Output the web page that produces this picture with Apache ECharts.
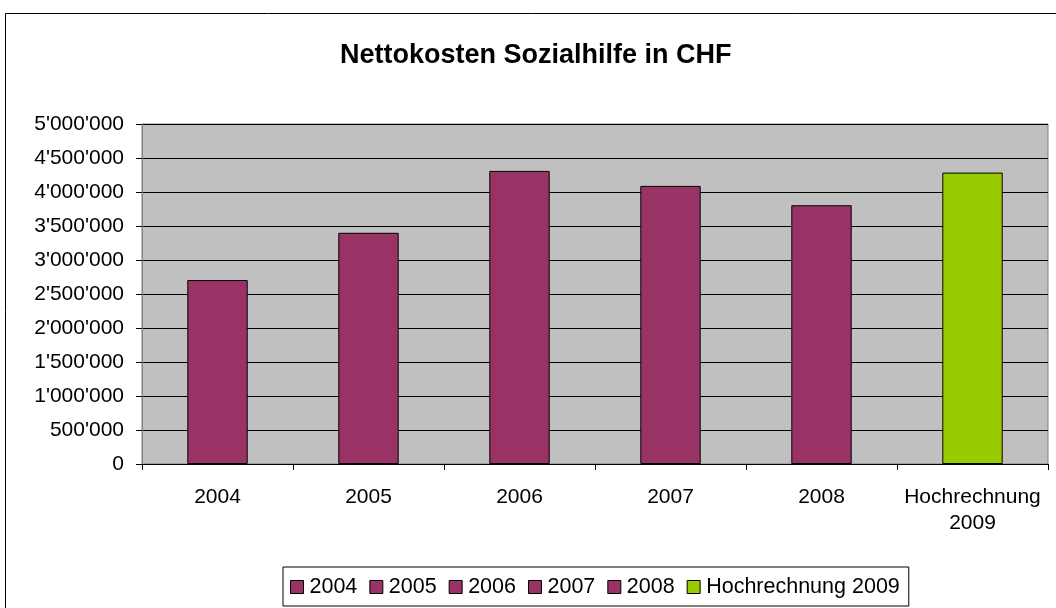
<!DOCTYPE html>
<html>
<head>
<meta charset="utf-8">
<script src="https://cdn.jsdelivr.net/npm/echarts@6/dist/echarts.min.js"></script>
<style>
  html, body { margin: 0; padding: 0; background: #fff; }
  #main { width: 1056px; height: 608px; }
</style>
</head>
<body>
<div id="main"></div>
<script>
// data
var categories = ['2004', '2005', '2006', '2007', '2008', 'Hochrechnung\n2009'];
var seriesNames = ['2004', '2005', '2006', '2007', '2008', 'Hochrechnung 2009'];
var values = [2705000, 3400000, 4310000, 4090000, 3805000, 4285000];
var colors = ['#993366', '#993366', '#993366', '#993366', '#993366', '#99CC00'];
var yTicks = { min: 0, max: 5000000, interval: 500000 };

var FONT = '"Liberation Sans", Arial, sans-serif';

function swissFormat(v) {
    return String(v).replace(/\B(?=(\d{3})+(?!\d))/g, "'");
}

var myChart = echarts.init(document.getElementById('main'));

// one series per year, value only in its own slot so the bars stay centred
var series = seriesNames.map(function (name, i) {
    return {
        name: name,
        type: 'bar',
        stack: 'all',
        barWidth: '40%',
        data: values.map(function (v, j) { return j === i ? v : null; }),
        itemStyle: { color: colors[i], borderColor: '#000', borderWidth: 1 }
    };
});

var option = {
    animation: false,
    backgroundColor: '#fff',
    color: colors,
    textStyle: { fontFamily: FONT },
    title: {
        text: 'Nettokosten Sozialhilfe in CHF',
        left: 335,
        top: 37,
        textStyle: { fontFamily: FONT, fontSize: 27, fontWeight: 'bold', color: '#000' }
    },
    graphic: [{
        type: 'rect',
        shape: { x: 5.5, y: 13.5, width: 1200, height: 800 },
        style: { fill: 'none', stroke: '#000', lineWidth: 1 },
        silent: true
    }],
    legend: {
        data: seriesNames,
        left: 283,
        top: 567,
        itemWidth: 13,
        itemHeight: 13,
        itemGap: 12,
        icon: 'rect',
        borderColor: '#000',
        borderWidth: 1,
        padding: [9, 9, 8, 7],
        itemStyle: { borderColor: '#000', borderWidth: 1 },
        textStyle: { fontFamily: FONT, fontSize: 21.5, color: '#000', padding: [0, 0, 0, 1] }
    },
    grid: {
        left: 142, right: 8, top: 124, bottom: 144,
        show: true,
        backgroundColor: '#C0C0C0',
        borderColor: '#808080',
        borderWidth: 1
    },
    xAxis: {
        type: 'category',
        data: categories,
        axisLine: { lineStyle: { color: '#000', width: 1 } },
        axisTick: { show: true, length: 6, alignWithLabel: false, lineStyle: { color: '#000' } },
        axisLabel: { fontFamily: FONT, fontSize: 21, color: '#000', margin: 20, lineHeight: 26, interval: 0 }
    },
    yAxis: {
        type: 'value',
        min: yTicks.min,
        max: yTicks.max,
        interval: yTicks.interval,
        axisLine: { show: true, lineStyle: { color: '#808080' } },
        axisTick: { show: true, length: 6, lineStyle: { color: '#000' } },
        splitLine: { lineStyle: { color: '#000', width: 1 } },
        axisLabel: { fontFamily: FONT, fontSize: 21, color: '#000', margin: 18, formatter: swissFormat }
    },
    series: series
};

myChart.setOption(option);
</script>
</body>
</html>
